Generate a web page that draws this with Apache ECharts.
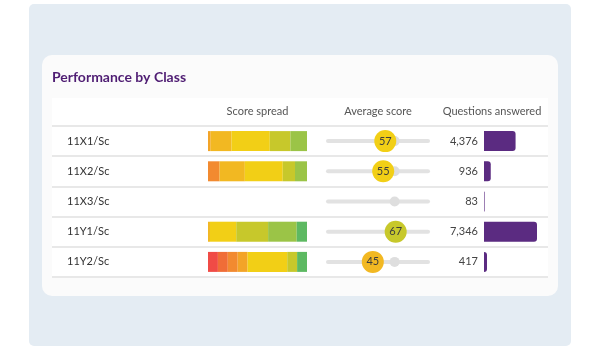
<!DOCTYPE html>
<html>
<head>
<meta charset="utf-8">
<script src="https://cdn.jsdelivr.net/npm/echarts@6/dist/echarts.min.js"></script>
<style>
    html, body { margin: 0; padding: 0; background: #fff; }
    #myChart { width: 600px; height: 350px; }
</style>
</head>
<body>
<div id="myChart"></div>
<script>
// rows of the table
var classes = ['11X1/Sc', '11X2/Sc', '11X3/Sc', '11Y1/Sc', '11Y2/Sc'];

// score spread: % of students in each band, low -> high
var bandRed = [0, 0, 0, 0, 10];
var bandRedOrange = [0, 0, 0, 0, 10];
var bandOrange = [0, 11.7, 0, 0, 10];
var bandAmber = [2.7, 0, 0, 0, 10];
var bandGold = [21.1, 25.5, 0, 2, 0];
var bandYellow = [38.6, 38.3, 0, 26.5, 40];
var bandLime = [20.8, 12.4, 0, 32.2, 10];
var bandLightGreen = [16.8, 12.1, 0, 28.9, 0];
var bandGreen = [0, 0, 0, 10.4, 10];

// average score (0-100) and the reference marker on the slider
var avgScore = [57, 55, null, 67, 45];
var benchmark = [66, 66, 66, 66, 66];

// questions answered
var questions = [4376, 936, 83, 7346, 417];

var bands = [
    { data: bandRed, color: '#f04b46' },
    { data: bandRedOrange, color: '#f06d37' },
    { data: bandOrange, color: '#f28a30' },
    { data: bandAmber, color: '#f3a428' },
    { data: bandGold, color: '#f2b822' },
    { data: bandYellow, color: '#f2cf16' },
    { data: bandLime, color: '#c7c82b' },
    { data: bandLightGreen, color: '#9bc447' },
    { data: bandGreen, color: '#5db962' }
];

function scoreColor(s) {
    if (s >= 65) return '#c7c82b';
    if (s >= 50) return '#f2cf16';
    return '#f2b822';
}

var font = 'Lato, "Open Sans", sans-serif';
var hidden = { show: false };

function topAxis(idx, name, max, pad) {
    return {
        gridIndex: idx,
        type: 'value',
        position: 'top',
        min: 0,
        max: max,
        name: name,
        nameLocation: 'middle',
        nameGap: 9,
        nameTextStyle: { color: '#555', fontSize: 11, fontFamily: font, padding: pad || 0 },
        axisLine: hidden,
        axisTick: hidden,
        axisLabel: hidden,
        splitLine: hidden
    };
}

function rowAxis(idx) {
    return {
        gridIndex: idx,
        type: 'category',
        data: classes,
        inverse: true,
        axisLine: hidden,
        axisTick: hidden,
        axisLabel: hidden,
        splitLine: hidden
    };
}

var series = [];
bands.forEach(function (b) {
    series.push({
        type: 'bar',
        xAxisIndex: 1,
        yAxisIndex: 1,
        stack: 'spread',
        barWidth: 20,
        silent: true,
        itemStyle: { color: b.color },
        data: b.data
    });
});

// slider track
series.push({
    type: 'bar',
    xAxisIndex: 2,
    yAxisIndex: 2,
    barWidth: 4,
    silent: true,
    itemStyle: { color: '#e2e2e2', borderRadius: 2 },
    data: classes.map(function () { return 100; })
});
// benchmark knob
series.push({
    type: 'scatter',
    xAxisIndex: 2,
    yAxisIndex: 2,
    symbolSize: 10,
    silent: true,
    itemStyle: { color: '#dedede', opacity: 1 },
    data: benchmark.map(function (v, i) { return [v, i]; })
});
// average score bubble
series.push({
    type: 'scatter',
    xAxisIndex: 2,
    yAxisIndex: 2,
    symbolSize: 22,
    silent: true,
    itemStyle: { opacity: 1 },
    data: avgScore.map(function (v, i) {
        return v === null ? null : { value: [v, i], itemStyle: { color: scoreColor(v), opacity: 1 } };
    }).filter(function (d) { return d; }),
    label: {
        show: true,
        position: 'inside',
        color: '#3d3d3d',
        fontSize: 11,
        fontFamily: font,
        formatter: function (p) { return p.value[0]; }
    }
});
// questions answered
series.push({
    type: 'bar',
    xAxisIndex: 3,
    yAxisIndex: 3,
    barWidth: 20,
    silent: true,
    itemStyle: { color: '#5b2b81', borderRadius: [0, 3, 3, 0] },
    label: {
        show: true,
        position: 'left',
        distance: 6,
        color: '#444',
        fontSize: 11,
        fontFamily: font,
        formatter: function (p) { return p.value.toLocaleString('en-US'); }
    },
    data: questions
});

var option = {
    animation: false,
    textStyle: { fontFamily: font },
    title: {
        text: 'Performance by Class',
        left: 47,
        top: 65,
        textStyle: { color: '#4f1d73', fontSize: 14, fontWeight: 'bold', fontFamily: font }
    },
    graphic: [
        { type: 'rect', z: -10, shape: { x: 29, y: 4, width: 542, height: 342, r: 5 }, style: { fill: '#e4ecf3' } },
        { type: 'rect', z: -9, shape: { x: 42, y: 55, width: 516, height: 241, r: 10 }, style: { fill: '#fbfbfb' } },
        { type: 'rect', z: -8, shape: { x: 52, y: 98, width: 496, height: 179 }, style: { fill: '#ffffff' } }
    ],
    grid: [
        { left: 52, width: 496, top: 126, height: 151 },   // row lines + labels
        { left: 208, width: 99, top: 126, height: 151 },   // score spread
        { left: 326, width: 104, top: 126, height: 151 },  // average score
        { left: 484, width: 53, top: 126, height: 151 }    // questions answered
    ],
    xAxis: [
        { gridIndex: 0, type: 'value', min: 0, max: 1, show: false },
        topAxis(1, 'Score spread', 100),
        topAxis(2, 'Average score', 100),
        topAxis(3, 'Questions answered', Math.max.apply(null, questions), [0, 37, 0, 0])
    ],
    yAxis: [
        {
            gridIndex: 0,
            type: 'category',
            data: classes,
            inverse: true,
            axisLine: hidden,
            axisTick: hidden,
            axisLabel: {
                inside: true,
                margin: 15,
                color: '#333',
                fontSize: 11,
                fontFamily: font
            },
            splitLine: { show: true, lineStyle: { color: '#e8e8e8', width: 2 } }
        },
        rowAxis(1),
        rowAxis(2),
        rowAxis(3)
    ],
    series: series
};

var myChart = echarts.init(document.getElementById('myChart'));
myChart.setOption(option);
</script>
</body>
</html>
